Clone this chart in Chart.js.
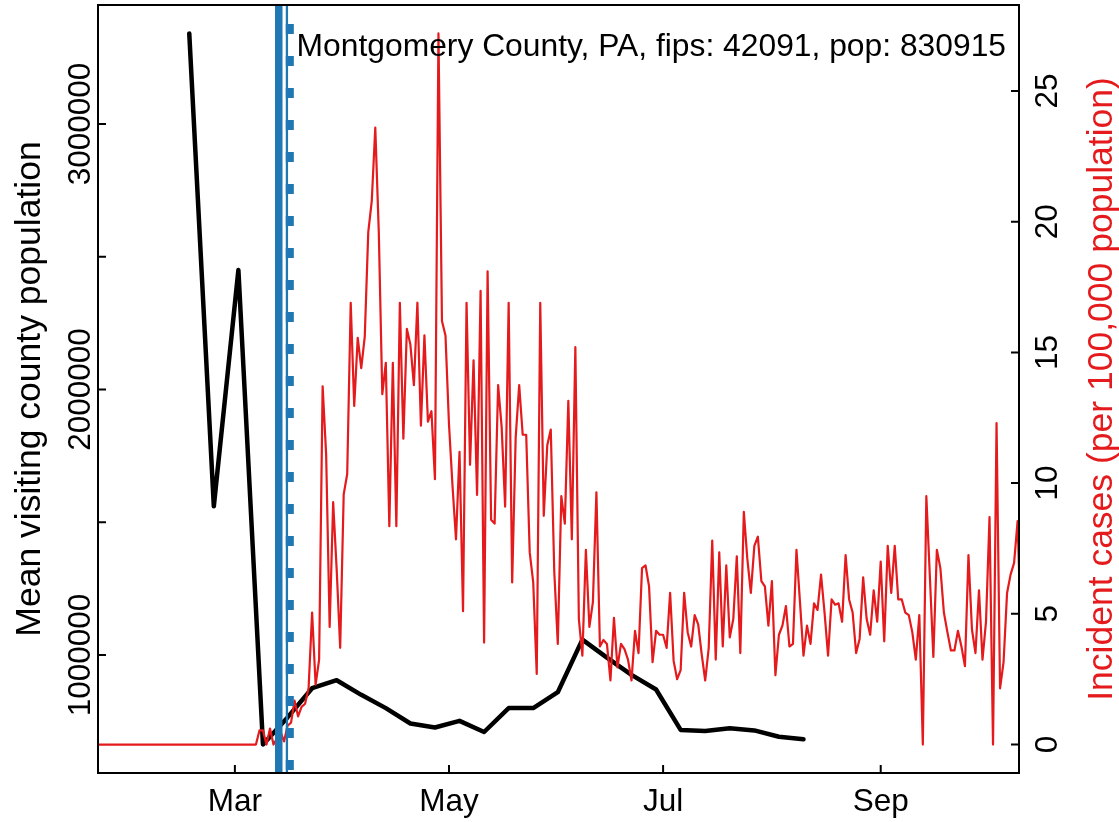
<!DOCTYPE html>
<html>
<head>
<meta charset="utf-8">
<script src="https://cdn.jsdelivr.net/npm/chart.js@4.4.1/dist/chart.umd.min.js"></script>
<style>
  html, body { margin: 0; padding: 0; background: #fff; }
  #wrap { width: 1119px; height: 822px; }
</style>
</head>
<body>
<div id="wrap"><canvas id="chart" width="1119" height="822"></canvas></div>
<script>
// daily incident cases per 100k, starting 2020-01-22
const caseStart = '2020-01-22';
const caseValues = [
  0, 0, 0, 0, 0, 0, 0, 0, 0, 0, 0, 0, 0, 0, 0, 0, 0, 0, 0, 0,
  0, 0, 0, 0, 0, 0, 0, 0, 0, 0, 0, 0, 0, 0, 0, 0, 0, 0, 0, 0,
  0, 0, 0, 0, 0, 0, 0.54, 0.54, 0, 0.61, 0, 0.24, 0.48, 0.12, 0.72, 0.84, 1.68, 1.08, 1.44, 1.56,
  2.16, 5.05, 2.29, 3.25, 13.7, 11.1, 4.5, 9.27, 6.7, 3.7, 9.57, 10.35, 16.9, 12.95, 15.56, 14.4, 15.6, 19.6, 20.8, 23.6,
  19.6, 13.4, 14.6, 8.35, 14.6, 8.35, 16.9, 11.7, 15.9, 15.3, 13.75, 16.9, 12.2, 15.65, 12.35, 12.75, 10.15, 27.2, 16.2, 15.65,
  12.25, 9.9, 7.85, 11.2, 5.1, 16.9, 10.7, 14.7, 9.55, 17.35, 3.9, 18.1, 8.6, 8.45, 13.75, 12.15, 9.1, 16.9, 6.2, 11.75,
  13.75, 11.85, 11.85, 7.35, 6.2, 2.7, 16.9, 8.75, 11.45, 12.05, 6.6, 3.85, 9.5, 8.45, 13.15, 7.85, 15.2, 4.8, 3.4, 7.45,
  4.5, 5.45, 9.65, 3.75, 4.0, 3.85, 2.45, 4.85, 2.95, 3.85, 3.65, 3.25, 2.45, 4.35, 3.5, 6.75, 6.85, 6.05, 3.15, 4.35,
  4.2, 4.2, 3.7, 5.8, 3.2, 2.5, 2.85, 5.8, 4.3, 3.75, 4.95, 4.6, 3.45, 2.45, 3.7, 7.8, 3.25, 7.35, 3.75, 6.85,
  4.1, 4.8, 7.2, 3.5, 8.9, 7.1, 5.8, 7.6, 7.95, 6.25, 6.05, 4.55, 6.25, 2.65, 4.2, 4.55, 5.3, 3.75, 3.85, 7.45,
  5.45, 3.4, 4.55, 3.85, 5.4, 5.15, 6.5, 5.05, 3.4, 5.55, 5.35, 5.4, 4.7, 7.25, 5.55, 5.05, 3.5, 4.05, 6.4, 4.8,
  4.2, 5.9, 4.7, 7.0, 3.95, 7.6, 5.8, 7.6, 5.55, 5.55, 5.05, 4.95, 4.3, 3.25, 4.95, 0, 9.5, 6.45, 3.35, 7.45,
  6.75, 5.05, 4.3, 3.6, 3.6, 4.35, 3.75, 3.0, 7.25, 4.4, 3.5, 5.9, 3.25, 4.7, 8.7, 0, 12.3, 2.15, 3.15, 5.8,
  6.5, 6.95, 8.55, 4.0
];

// weekly mean visiting county population, starting 2020-02-17
const visitStart = '2020-02-17';
const visitValues = [
  3341000, 1560000, 2450000, 663000, 765000, 875000, 905000, 850000, 800000, 742000,
  727000, 752000, 710000, 800000, 800000, 860000, 1058000, 990000, 925000, 870000,
  718000, 714000, 724000, 716000, 692000, 683000
];

const monthTicks = ['2020-03-01', '2020-05-01', '2020-07-01', '2020-09-01'];
const monthLabels = ['Mar', 'May', 'Jul', 'Sep'];
const visitTicks = [1000000, 1500000, 2000000, 2500000, 3000000];
const visitTickLabels = ['1000000', '', '2000000', '', '3000000'];
const caseTicks = [0, 5, 10, 15, 20, 25];
const caseTickLabels = ['0', '5', '10', '15', '20', '25'];
// event dates as days after caseStart (solid, dashed)
const eventDays = [51.5, 54.65];

const titleText = 'Montgomery County, PA, fips: 42091, pop: 830915';
const leftTitle = 'Mean visiting county population';
const rightTitle = 'Incident cases (per 100,000 population)';

const RED = '#E41A1C';
const BLUE = '#1F77B4';
const FONT = '"Liberation Sans", Arial, Helvetica, sans-serif';

function daysFrom(start, date) {
    return (Date.parse(date + 'T00:00:00Z') - Date.parse(start + 'T00:00:00Z')) / 86400000;
}

const visitOffset = daysFrom(caseStart, visitStart);

const frameAndText = {
    id: 'frameAndText',
    afterDatasetsDraw(chart) {
        const { ctx, chartArea: a, scales } = chart;
        const x = scales.x, y = scales.y, y1 = scales.y1;
        ctx.save();

        // intervention lines
        ctx.strokeStyle = BLUE;
        ctx.lineCap = 'butt';
        let px = x.getPixelForValue(eventDays[0]);
        ctx.lineWidth = 7.5;
        ctx.beginPath(); ctx.moveTo(px, a.top); ctx.lineTo(px, a.bottom); ctx.stroke();

        px = x.getPixelForValue(eventDays[1]);
        ctx.lineWidth = 2.3;
        ctx.beginPath(); ctx.moveTo(px - 2.9, a.top); ctx.lineTo(px - 2.9, a.bottom); ctx.stroke();
        ctx.lineWidth = 8;
        ctx.setLineDash([10, 22]);
        ctx.lineDashOffset = 13;
        ctx.beginPath(); ctx.moveTo(px, a.top); ctx.lineTo(px, a.bottom); ctx.stroke();
        ctx.setLineDash([]);

        // box
        ctx.strokeStyle = '#000';
        ctx.lineWidth = 2;
        ctx.strokeRect(a.left, a.top, a.right - a.left, a.bottom - a.top);

        // inward ticks
        const tl = 8;
        ctx.beginPath();
        monthTicks.forEach(d => {
            const p = x.getPixelForValue(daysFrom(caseStart, d));
            ctx.moveTo(p, a.bottom); ctx.lineTo(p, a.bottom - tl);
        });
        visitTicks.forEach(v => {
            const p = y.getPixelForValue(v);
            ctx.moveTo(a.left, p); ctx.lineTo(a.left + tl, p);
        });
        caseTicks.forEach(v => {
            const p = y1.getPixelForValue(v);
            ctx.moveTo(a.right, p); ctx.lineTo(a.right - tl, p);
        });
        ctx.stroke();

        // tick labels
        ctx.fillStyle = '#000';
        ctx.font = '31.5px ' + FONT;
        ctx.textAlign = 'center';
        ctx.textBaseline = 'alphabetic';
        monthTicks.forEach((d, i) => {
            ctx.fillText(monthLabels[i], x.getPixelForValue(daysFrom(caseStart, d)), 811);
        });

        const vtext = (str, cx, cy, color, font) => {
            ctx.save();
            ctx.translate(cx, cy);
            ctx.rotate(-Math.PI / 2);
            ctx.fillStyle = color;
            ctx.font = font;
            ctx.textAlign = 'center';
            ctx.textBaseline = 'alphabetic';
            ctx.fillText(str, 0, 0);
            ctx.restore();
        };
        visitTicks.forEach((v, i) => {
            if (visitTickLabels[i]) vtext(visitTickLabels[i], 90, y.getPixelForValue(v), '#000', '31.5px ' + FONT);
        });
        caseTicks.forEach((v, i) => {
            vtext(caseTickLabels[i], 1057, y1.getPixelForValue(v), '#000', '31.5px ' + FONT);
        });

        // axis titles
        const midY = (a.top + a.bottom) / 2;
        vtext(leftTitle, 40, midY, '#000', '35.5px ' + FONT);
        vtext(rightTitle, 1112, midY, RED, '35.5px ' + FONT);

        // title
        ctx.font = '31.8px ' + FONT;
        ctx.textAlign = 'right';
        ctx.fillStyle = '#000';
        ctx.fillText(titleText, 1006, 56);

        ctx.restore();
    }
};

new Chart(document.getElementById('chart'), {
    type: 'line',
    data: {
        datasets: [
            {
                label: 'Mean visiting county population',
                data: visitValues.map((v, i) => ({ x: visitOffset + 7 * i, y: v })),
                yAxisID: 'y',
                borderColor: '#000',
                borderWidth: 4.5,
                borderJoinStyle: 'round',
                borderCapStyle: 'round',
                pointRadius: 0,
                tension: 0,
                order: 2
            },
            {
                label: 'Incident cases',
                data: caseValues.map((v, i) => ({ x: i, y: v })),
                yAxisID: 'y1',
                borderColor: RED,
                borderWidth: 2.2,
                borderJoinStyle: 'round',
                pointRadius: 0,
                tension: 0,
                order: 1
            }
        ]
    },
    options: {
        responsive: false,
        animation: false,
        devicePixelRatio: 1,
        layout: { padding: { left: 98, right: 100, top: 5, bottom: 49 } },
        plugins: { legend: { display: false }, tooltip: { enabled: false } },
        scales: {
            x: { type: 'linear', display: false, min: 0, max: 262.4 },
            y: { type: 'linear', display: false, position: 'left', min: 555600, max: 3448000 },
            y1: { type: 'linear', display: false, position: 'right', min: -1.088, max: 28.288 }
        }
    },
    plugins: [frameAndText]
});
</script>
</body>
</html>
